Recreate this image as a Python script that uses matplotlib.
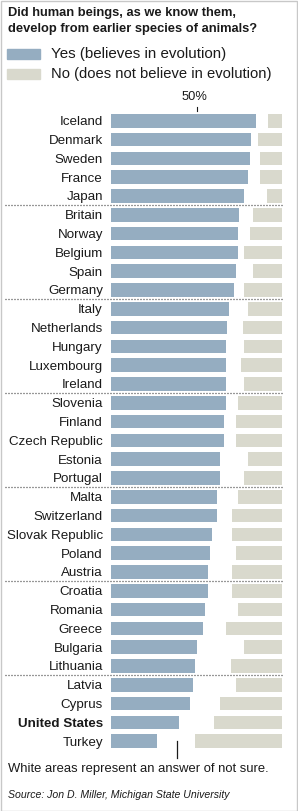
import matplotlib
matplotlib.use("Agg")
import matplotlib.pyplot as plt

countries = ["Iceland", "Denmark", "Sweden", "France", "Japan",
             "Britain", "Norway", "Belgium", "Spain", "Germany",
             "Italy", "Netherlands", "Hungary", "Luxembourg", "Ireland",
             "Slovenia", "Finland", "Czech Republic", "Estonia", "Portugal",
             "Malta", "Switzerland", "Slovak Republic", "Poland", "Austria",
             "Croatia", "Romania", "Greece", "Bulgaria", "Lithuania",
             "Latvia", "Cyprus", "United States", "Turkey"]
yes_pct = [85, 82, 81, 80, 78,
           75, 74, 74, 73, 72,
           69, 68, 67, 67, 67,
           67, 66, 66, 64, 64,
           62, 62, 59, 58, 57,
           57, 55, 54, 50, 49,
           48, 46, 40, 27]
no_pct = [8, 14, 13, 13, 9,
          17, 19, 22, 17, 22,
          20, 23, 22, 24, 22,
          26, 27, 27, 20, 22,
          26, 29, 29, 27, 29,
          29, 26, 33, 22, 30,
          27, 36, 40, 51]
separators_after = [4, 9, 14, 19, 24, 29]
tick_50 = 50
bottom_marker = 38.5

W, H = 298, 811
DPI = 100
YES_C = "#95adc1"
NO_C = "#d9d9cd"
TXT = "#1a1a1a"

fig = plt.figure(figsize=(W / DPI, H / DPI), dpi=DPI)
plt.rcParams['font.family'] = ['Liberation Sans', 'DejaVu Sans']

def fx(x):
    return x / W

def fy(y):
    return 1 - y / H

# frame border
fig.patches.append(plt.Rectangle((0.5 / W, 0.5 / H), 1 - 1.5 / W, 1 - 1.5 / H,
                                 transform=fig.transFigure, fill=False,
                                 edgecolor="#c8c8c8", linewidth=1))

n = len(countries)
pitch = 18.8
top_c = 120.75
ax_left, ax_right = 111, 282
ax_top = top_c - pitch / 2
ax_bot = top_c + (n - 1) * pitch + pitch / 2
ax = fig.add_axes([fx(ax_left), fy(ax_bot), (ax_right - ax_left) / W, (ax_bot - ax_top) / H])
ax.set_xlim(0, 100)
ax.set_ylim(n - 0.5, -0.5)
for s in ax.spines.values():
    s.set_visible(False)
ax.set_xticks([])

ys = list(range(n))
ax.barh(ys, yes_pct, height=0.72, color=YES_C, left=0)
ax.barh(ys, no_pct, height=0.72, color=NO_C, left=[100 - v for v in no_pct])

ax.set_yticks(ys)
ax.set_yticklabels(countries, fontsize=9.6, color=TXT)
ax.tick_params(axis='y', length=0, pad=5.8)
for lbl in ax.get_yticklabels():
    if lbl.get_text() == "United States":
        lbl.set_fontweight("bold")

for r in separators_after:
    ax.axhline(r + 0.5, xmin=(5 - 111) / 171, xmax=(283 - 111) / 171,
               color="#333333", linewidth=0.9, linestyle=(0, (0.8, 1.6)),
               clip_on=False)

# 50% tick and label
ax.plot([tick_50, tick_50], [-0.75, -0.5], color=TXT, linewidth=0.8, clip_on=False)
ax.text(tick_50 - 0.9, -0.95, "50%", ha="center", va="bottom", fontsize=9.3, color=TXT)
# bottom marker
ax.plot([bottom_marker, bottom_marker], [n - 1 + 0.0, n - 1 + 0.9], color=TXT,
        linewidth=0.9, clip_on=False)

# title
fig.text(fx(8), fy(16), "Did human beings, as we know them,", fontsize=9.3,
         fontweight="bold", color=TXT, va="baseline")
fig.text(fx(8), fy(31.7), "develop from earlier species of animals?", fontsize=9.3,
         fontweight="bold", color=TXT, va="baseline")

# legend
fig.patches.append(plt.Rectangle((fx(7), fy(59)), 33 / W, 10 / H,
                                 transform=fig.transFigure, color=YES_C))
fig.patches.append(plt.Rectangle((fx(7), fy(79)), 33 / W, 10 / H,
                                 transform=fig.transFigure, color=NO_C))
fig.text(fx(51), fy(54), "Yes (believes in evolution)", fontsize=10.9,
         color=TXT, va="center")
fig.text(fx(51), fy(74), "No (does not believe in evolution)", fontsize=10.6,
         color=TXT, va="center")

fig.text(fx(8), fy(769), "White areas represent an answer of not sure.",
         fontsize=9.4, color=TXT, va="center")
fig.text(fx(8), fy(795), "Source: Jon D. Miller, Michigan State University",
         fontsize=7.6, style="italic", color=TXT, va="center")

fig.savefig("out.png", dpi=DPI)
